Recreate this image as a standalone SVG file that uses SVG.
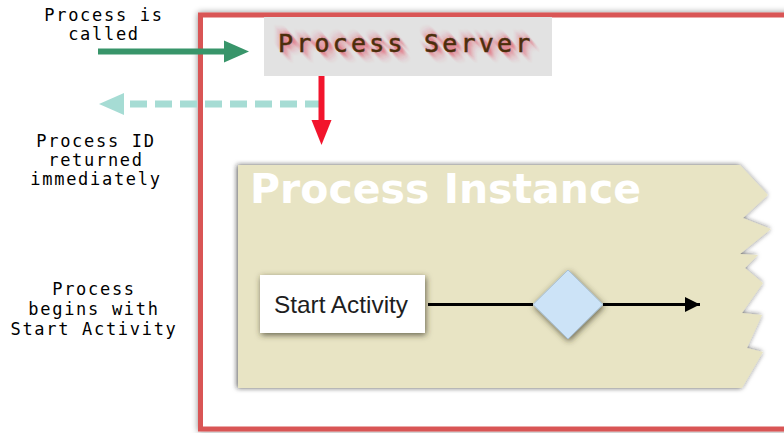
<svg xmlns="http://www.w3.org/2000/svg" width="784" height="433" viewBox="0 0 784 433">
  <defs>
    <filter id="frameShadow" x="-5%" y="-5%" width="110%" height="110%">
      <feDropShadow dx="0" dy="0" stdDeviation="3" flood-color="#000" flood-opacity="0.45"/>
    </filter>
    <filter id="panelShadow" x="-5%" y="-8%" width="110%" height="116%">
      <feDropShadow dx="-1" dy="0" stdDeviation="2.5" flood-color="#222" flood-opacity="0.75"/>
    </filter>
    <filter id="boxShadow" x="-20%" y="-30%" width="140%" height="160%">
      <feDropShadow dx="1" dy="2" stdDeviation="3" flood-color="#3a3520" flood-opacity="0.75"/>
    </filter>
    <!-- blur along the local x axis only; used inside a rotated group for a diagonal smear -->
    <filter id="streak" x="-30%" y="-100%" width="160%" height="300%">
      <feGaussianBlur stdDeviation="6 0.7"/>
      <feComponentTransfer>
        <feFuncA type="linear" slope="2"/>
      </feComponentTransfer>
    </filter>
    <marker id="blackHead" viewBox="0 0 10 10" refX="10" refY="5" markerWidth="5" markerHeight="5" orient="auto" markerUnits="strokeWidth">
      <path d="M0,0 L10,5 L0,10 Z" fill="#000"/>
    </marker>
    <style>
      .note { font-family: "DejaVu Sans Mono", "Liberation Mono", monospace; font-size: 17px; letter-spacing: 1.7px; fill: #000; text-anchor: middle; }
      .title { font-family: "DejaVu Sans Mono", "Liberation Mono", monospace; font-size: 25px; letter-spacing: 3.2px; }
      .flow { stroke: #000; stroke-width: 3; fill: none; }
    </style>
  </defs>

  <rect width="784" height="433" fill="#fff"/>

  <!-- server frame -->
  <g id="server-frame">
    <rect x="200.5" y="15" width="620" height="414" fill="#fff" stroke="#d95555" stroke-width="5" filter="url(#frameShadow)"/>
  </g>

  <!-- process server -->
  <g id="process-server">
    <rect x="264" y="17" width="288" height="59" fill="#e2e2e2"/>
    <g transform="rotate(50 405 44)" filter="url(#streak)" opacity="0.45">
      <text class="title" x="280" y="53" fill="#e0203a" stroke="#e0203a" stroke-width="1.5" transform="rotate(-50 405 44)">Process Server</text>
    </g>
    <text class="title" x="278" y="52" fill="#4b2e0b" stroke="#4b2e0b" stroke-width="0.5">Process Server</text>
  </g>

  <!-- process instance panel -->
  <g id="process-instance">
    <path d="M238,165 L740,165 L768,195 L743,218 L771,229 L740,254 L758,255 L745,268 L763,283 L742,313 L762,315 L747,348 L763,352 L742,388 L238,388 Z" fill="#e8e4c4" filter="url(#panelShadow)"/>
    <text x="250" y="203" font-family="DejaVu Sans, Verdana, sans-serif" font-weight="bold" font-size="41" fill="#fff">Process Instance</text>
  </g>

  <!-- start activity -->
  <g id="start-activity">
    <rect x="260" y="275" width="165" height="58" fill="#fff" filter="url(#boxShadow)"/>
    <text x="274" y="313" font-family="Liberation Sans, Arial, sans-serif" font-size="24" textLength="134" lengthAdjust="spacingAndGlyphs" fill="#1e1e1e">Start Activity</text>
  </g>

  <!-- gateway -->
  <g id="gateway">
    <path d="M568,270 L603,304.5 L568,339 L533,304.5 Z" fill="#cce3f7" stroke="#a8c0d4" stroke-width="1" filter="url(#boxShadow)"/>
  </g>

  <!-- side notes -->
  <g id="note-called">
    <text class="note" x="104" y="21">Process is</text>
    <text class="note" x="104" y="40">called</text>
  </g>
  <g id="note-returned">
    <text class="note" x="96" y="147">Process ID</text>
    <text class="note" x="96" y="166">returned</text>
    <text class="note" x="96" y="185">immediately</text>
  </g>
  <g id="note-begins">
    <text class="note" x="94" y="295">Process</text>
    <text class="note" x="94" y="315">begins with</text>
    <text class="note" x="94" y="335">Start Activity</text>
  </g>

  <!-- connectors -->
  <g id="connectors">
    <!-- call in -->
    <line x1="98" y1="51.5" x2="226" y2="51.5" stroke="#38956a" stroke-width="6"/>
    <path d="M224,40.5 L249,51.5 L224,62.5 Z" fill="#38956a"/>
    <!-- id returned -->
    <line x1="322" y1="104" x2="122" y2="104" stroke="#a6dcd4" stroke-width="7" stroke-dasharray="17 8"/>
    <path d="M124,93 L99,104 L124,115 Z" fill="#a6dcd4"/>
    <!-- instance spawned -->
    <line x1="321.5" y1="76" x2="321.5" y2="122" stroke="#f2142c" stroke-width="6"/>
    <path d="M311.5,120 L331.5,120 L321.5,145 Z" fill="#f2142c"/>
    <!-- flow inside instance -->
    <line class="flow" x1="428" y1="304.5" x2="533" y2="304.5"/>
    <line class="flow" x1="603" y1="304.5" x2="700" y2="304.5" marker-end="url(#blackHead)"/>
  </g>
</svg>
